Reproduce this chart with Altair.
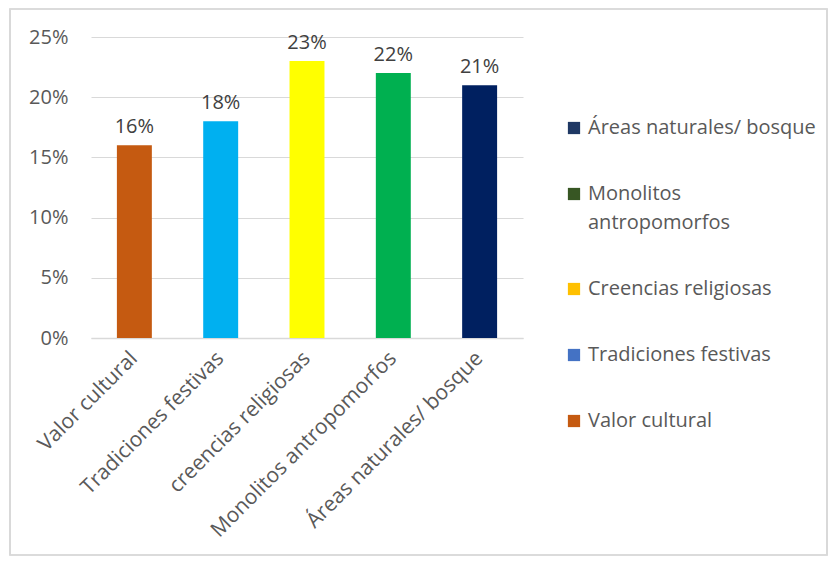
import altair as alt
import pandas as pd

categories = ["Valor cultural", "Tradiciones festivas", "creencias religiosas",
              "Monolitos antropomorfos", "Áreas naturales/ bosque"]
values = [0.16, 0.18, 0.23, 0.22, 0.21]
bar_colors = ["#c55a11", "#00b0f0", "#ffff00", "#00b050", "#002060"]

legend_names = ["Áreas naturales/ bosque", "Monolitos antropomorfos",
                "Creencias religiosas", "Tradiciones festivas", "Valor cultural"]
legend_colors = ["#1f3864", "#375623", "#ffc000", "#4472c4", "#c55a11"]

FONT = "Open Sans"
FS = 20
W, H = 432, 301
PAD = {"left": 83, "top": 29, "right": 305, "bottom": 218}

df = pd.DataFrame({"cat": categories, "val": values, "col": bar_colors})
leg = pd.DataFrame({"name": legend_names, "v": [0] * 5})

x = alt.X("cat:N", sort=categories, title=None,
          scale=alt.Scale(paddingInner=0.595, paddingOuter=0.3),
          axis=alt.Axis(labelAngle=-45, labelAlign="right", labelBaseline="middle",
                        labelFontSize=21, labelColor="#595959", labelFont=FONT,
                        labelPadding=17, ticks=False, domainColor="#d9d9d9",
                        domainWidth=1.5, labelLimit=400))
y = alt.Y("val:Q", title=None,
          scale=alt.Scale(domain=[0, 0.25], nice=False),
          axis=alt.Axis(format=".0%", values=[0, 0.05, 0.1, 0.15, 0.2, 0.25],
                        labelFontSize=FS, labelColor="#595959", labelFont=FONT,
                        labelPadding=23, ticks=False, domain=False,
                        gridColor="#d9d9d9", gridWidth=1.2))

bars = alt.Chart(df).mark_bar().encode(
    x=x, y=y, fill=alt.Fill("col:N", scale=None))

labels = alt.Chart(df).mark_text(dy=-18, fontSize=FS, font=FONT, color="#404040").encode(
    x=alt.X("cat:N", sort=categories), y="val:Q",
    text=alt.Text("val:Q", format=".0%"))

legend_layer = alt.Chart(leg).mark_square(fillOpacity=0, strokeOpacity=0, size=1).encode(
    x=alt.value(0), y=alt.value(H),
    color=alt.Color("name:N", sort=legend_names,
                    scale=alt.Scale(domain=legend_names, range=legend_colors),
                    legend=alt.Legend(
                        title=None, orient="none", legendX=473, legendY=81,
                        symbolType="square", symbolSize=150, symbolOpacity=1,
                        symbolStrokeWidth=0,
                        labelFont=FONT, labelFontSize=FS, labelColor="#595959",
                        labelLimit=400, rowPadding=46, labelOffset=4,
                        labelExpr="datum.label == 'Monolitos antropomorfos' ? ['Monolitos', 'antropomorfos'] : datum.label")))

border = alt.Chart(df).mark_rect(fill=None, stroke="#d9d9d9", strokeWidth=1.2).encode(
    x=alt.value(-PAD["left"] + 2), x2=alt.value(W + PAD["right"] - 1),
    y=alt.value(-28), y2=alt.value(H + PAD["bottom"] - 1))

chart = alt.layer(bars, labels, legend_layer, border).properties(
    width=W, height=H, padding=PAD,
    autosize=alt.AutoSizeParams(type="none")
).configure(
    style={"guide-label": {"lineHeight": 29}}
).configure_view(strokeWidth=0)

chart.save("out.html", embed_options={"renderer": "svg", "actions": False})
